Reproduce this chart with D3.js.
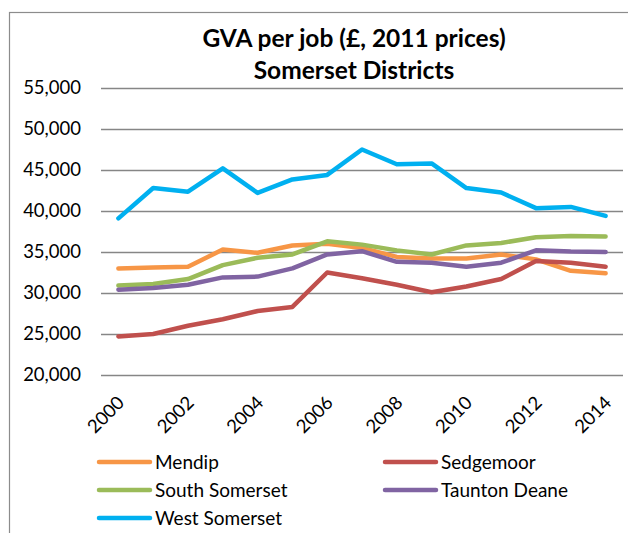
<!DOCTYPE html>
<html>
<head>
<meta charset="utf-8">
<script src="https://cdn.jsdelivr.net/npm/d3@7"></script>
<style>
  body { margin: 0; background: #fff; }
  svg { display: block; font-family: Lato, "Liberation Sans", sans-serif; }
</style>
</head>
<body>
<svg id="chart" width="628" height="533"></svg>
<script>
/* ── data ── */
const years = d3.range(2000, 2015);
const yTicks = [20000, 25000, 30000, 35000, 40000, 45000, 50000, 55000];
const xTickLabels = [2000, 2002, 2004, 2006, 2008, 2010, 2012, 2014];

const mendip        = [33000, 33100, 33200, 35300, 34900, 35800, 36000, 35500, 34400, 34200, 34200, 34700, 34100, 32700, 32400];
const sedgemoor     = [24700, 25000, 26000, 26800, 27800, 28300, 32500, 31800, 31000, 30100, 30800, 31700, 33900, 33700, 33200];
const southSomerset = [30900, 31100, 31700, 33400, 34300, 34700, 36300, 35900, 35200, 34700, 35800, 36100, 36800, 36950, 36900];
const tauntonDeane  = [30400, 30600, 31000, 31900, 32000, 33000, 34700, 35100, 33800, 33700, 33200, 33700, 35200, 35050, 35000];
const westSomerset  = [39100, 42800, 42350, 45200, 42200, 43850, 44400, 47500, 45700, 45800, 42800, 42250, 40350, 40500, 39400];

const seriesNames  = ["Mendip", "Sedgemoor", "South Somerset", "Taunton Deane", "West Somerset"];
const seriesValues = [mendip, sedgemoor, southSomerset, tauntonDeane, westSomerset];
const colors       = ["#F79646", "#C0504D", "#9BBB59", "#8064A2", "#00B0F0"];

/* ── layout ── */
const svg = d3.select("#chart");
const plot = { left: 101, right: 623, top: 88, bottom: 375 };
const fs = 18.5;   // axis + legend text size

// outer chart border (runs off the right and bottom of the picture)
svg.append("rect")
   .attr("x", 9.5).attr("y", 12.5)
   .attr("width", 660).attr("height", 560)
   .attr("fill", "none").attr("stroke", "#8c8c8c").attr("stroke-width", 1.2);

// title
svg.append("text").attr("x", 354).attr("y", 47)
   .attr("text-anchor", "middle").attr("font-weight", "bold").attr("font-size", 24.5)
   .text("GVA per job (£, 2011 prices)");
svg.append("text").attr("x", 354).attr("y", 79)
   .attr("text-anchor", "middle").attr("font-weight", "bold").attr("font-size", 24.5)
   .text("Somerset Districts");

const x = d3.scaleBand().domain(years).range([plot.left, plot.right]);
const xc = d => x(d) + x.bandwidth() / 2;
const y = d3.scaleLinear().domain([20000, 55000]).range([plot.bottom, plot.top]);

/* gridlines + y axis */
const yAxis = svg.append("g")
   .attr("transform", `translate(${plot.left},0)`)
   .call(d3.axisLeft(y).tickValues(yTicks).tickSize(-(plot.right - plot.left))
          .tickPadding(20).tickFormat(d3.format(",")));
yAxis.select(".domain").remove();
yAxis.selectAll("line").attr("stroke", "#868686").attr("stroke-width", 1.5);
yAxis.selectAll("text").attr("font-size", fs).attr("fill", "#000")
     .attr("font-family", "Lato, sans-serif");

/* x labels */
const xAxis = svg.append("g")
   .attr("transform", `translate(0,${plot.bottom})`)
   .call(d3.axisBottom(x).tickValues(xTickLabels).tickSize(0).tickFormat(d3.format("d")));
xAxis.select(".domain").remove();
xAxis.selectAll("text")
     .attr("font-size", fs).attr("fill", "#000").attr("font-family", "Lato, sans-serif")
     .attr("text-anchor", "end").attr("dy", null).attr("y", 0)
     .attr("transform", "translate(7,29) rotate(-45)");

/* lines */
const line = d3.line().x((d, i) => xc(years[i])).y(d => y(d));
seriesValues.forEach((vals, k) => {
  svg.append("path")
     .datum(vals)
     .attr("fill", "none")
     .attr("stroke", colors[k])
     .attr("stroke-width", 4.5)
     .attr("stroke-linejoin", "round")
     .attr("stroke-linecap", "round")
     .attr("d", line);
});

/* legend */
const legendPos = [[97, 462], [383, 462], [97, 490], [383, 490], [97, 518]];
seriesNames.forEach((name, k) => {
  const [lx, ly] = legendPos[k];
  svg.append("line")
     .attr("x1", lx + 2).attr("x2", lx + 53).attr("y1", ly).attr("y2", ly)
     .attr("stroke", colors[k]).attr("stroke-width", 4.5).attr("stroke-linecap", "round");
  svg.append("text")
     .attr("x", lx + 58).attr("y", ly + 6.5)
     .attr("font-size", 19)
     .text(name);
});
</script>
</body>
</html>
